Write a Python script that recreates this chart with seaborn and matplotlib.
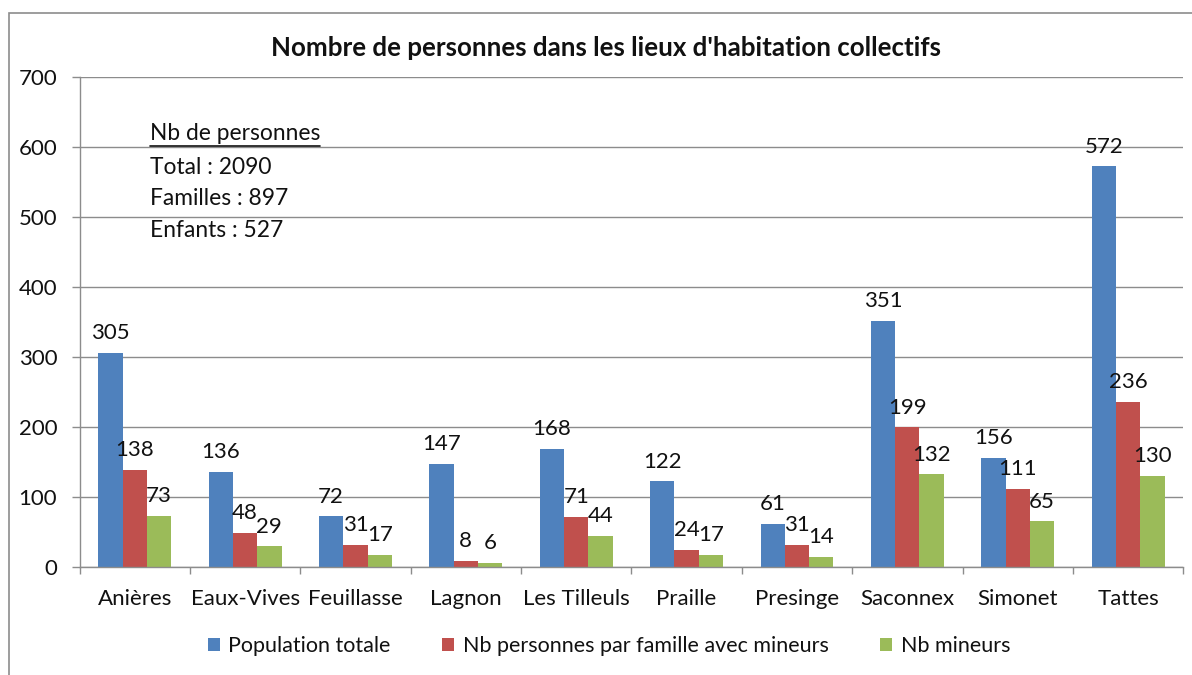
import matplotlib
matplotlib.use("Agg")
import matplotlib.pyplot as plt
import matplotlib.patches as mpatches
from matplotlib.lines import Line2D
import seaborn as sns
import pandas as pd
import numpy as np

sites = ["Anières", "Eaux-Vives", "Feuillasse", "Lagnon", "Les Tilleuls",
         "Praille", "Presinge", "Saconnex", "Simonet", "Tattes"]
population_totale = [305, 136, 72, 147, 168, 122, 61, 351, 156, 572]
personnes_famille = [138, 48, 31, 8, 71, 24, 31, 199, 111, 236]
nb_mineurs = [73, 29, 17, 6, 44, 17, 14, 132, 65, 130]
series_names = ["Population totale", "Nb personnes par famille avec mineurs", "Nb mineurs"]
colors = ["#4F81BD", "#C0504D", "#9BBB59"]
title = "Nombre de personnes dans les lieux d'habitation collectifs"
summary_header = "Nb de personnes"
summary_lines = ["Total : 2090", "Familles : 897", "Enfants : 527"]

rows = []
for name, vals in zip(series_names, [population_totale, personnes_famille, nb_mineurs]):
    for s, v in zip(sites, vals):
        rows.append({"site": s, "serie": name, "valeur": v})
df = pd.DataFrame(rows)

sns.set_theme(style="white")
plt.rcParams['font.family'] = ['Lato', 'DejaVu Sans']

fig = plt.figure(figsize=(11.92, 6.75), dpi=100)
ax = fig.add_axes([0.0667, 0.1604, 0.926, 0.726])

sns.barplot(data=df, x="site", y="valeur", hue="serie", order=sites,
            hue_order=series_names, palette=colors, saturation=1,
            width=0.66, ax=ax, legend=False, linewidth=0, err_kws={'linewidth': 0})

for cont in ax.containers:
    ax.bar_label(cont, labels=[f"{int(b.get_height())}" for b in cont],
                 padding=7, fontsize=16, color="#111111")

ax.set_ylim(0, 700)
ax.set_xlim(-0.5, len(sites) - 0.5)
ax.set_yticks(np.arange(0, 701, 100))
ax.yaxis.grid(True, color="#8c8c8c", linewidth=1)
ax.set_axisbelow(True)
ax.set_xlabel("")
ax.set_ylabel("")
for sp in ["top", "right"]:
    ax.spines[sp].set_visible(False)
for sp in ["left", "bottom"]:
    ax.spines[sp].set_color("#8c8c8c")
    ax.spines[sp].set_linewidth(1)

ax.tick_params(axis="y", which="major", length=6, width=1, color="#8c8c8c",
               direction="out", labelsize=16, labelcolor="#111111", pad=10, left=True)
ax.tick_params(axis="x", which="major", length=0, labelsize=16, labelcolor="#111111", pad=16)
ax.set_xticks(np.arange(-0.5, len(sites), 1.0), minor=True)
ax.tick_params(axis="x", which="minor", length=5, width=1, color="#8c8c8c",
               direction="out", bottom=True)

fig.text(0.508, 1 - 48 / 675, title, ha="center", va="center", fontsize=18.6,
         fontweight="bold", color="#111111")

# summary text block
fig.text(150 / 1192, 1 - 134 / 675, summary_header, ha="left", va="center",
         fontsize=16.4, color="#111111")
fig.add_artist(Line2D([150 / 1192, 320 / 1192], [1 - 146 / 675, 1 - 146 / 675],
                      transform=fig.transFigure, color="#111111", linewidth=1.2))
for i, line in enumerate(summary_lines):
    fig.text(150 / 1192, 1 - (167 + i * 31.5) / 675, line, ha="left", va="center",
             fontsize=16.4, color="#111111")

handles = [mpatches.Patch(facecolor=c, edgecolor="none", label=n)
           for c, n in zip(colors, series_names)]
fig.legend(handles=handles, loc="center", bbox_to_anchor=(0.511, 1 - 646 / 675),
           ncol=3, frameon=False, fontsize=15.5, handlelength=0.55, handleheight=0.55,
           handletextpad=0.4, columnspacing=2.4, labelcolor="#111111")

fig.add_artist(mpatches.Rectangle((9 / 1192, -0.05), 1.2, 1 - 13 / 675 + 0.05,
                                  transform=fig.transFigure, fill=False,
                                  edgecolor="#8c8c8c", linewidth=1.2, clip_on=False))

fig.savefig("out.png", dpi=100)
